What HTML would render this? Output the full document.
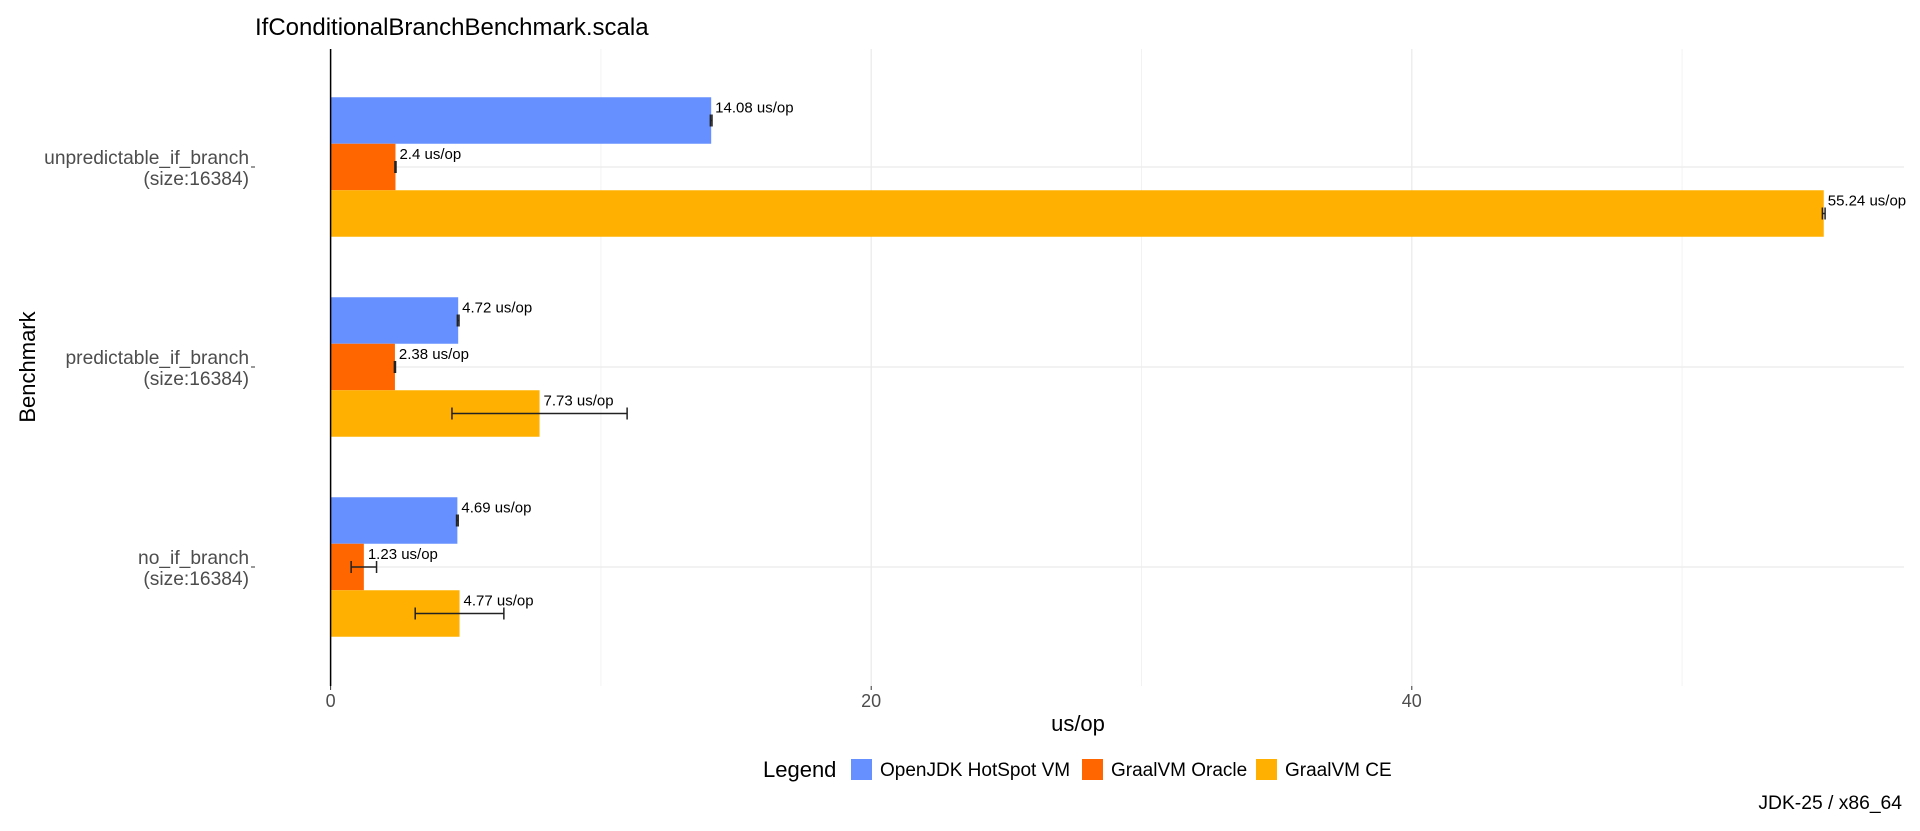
<!DOCTYPE html>
<html><head><meta charset="utf-8"><style>
html,body{margin:0;padding:0;background:#fff}
svg{display:block;font-family:"Liberation Sans",Arial,sans-serif}
</style></head><body>
<svg id="chart" width="1920" height="831" viewBox="0 0 1920 831">
<text x="255" y="35" font-size="24" fill="#000">IfConditionalBranchBenchmark.scala</text>
<g id="grid"></g>
<g id="bars"></g>
<g id="axes"></g>
<text transform="translate(35,367) rotate(-90)" text-anchor="middle" font-size="22" fill="#000">Benchmark</text>
<text x="1078" y="731" text-anchor="middle" font-size="22" fill="#000">us/op</text>
<g>
<text x="763" y="777" font-size="22" fill="#000">Legend</text>
<rect x="851" y="759" width="21" height="21" fill="#6690ff"/>
<text x="880" y="776" font-size="19" fill="#000">OpenJDK HotSpot VM</text>
<rect x="1082" y="759" width="21" height="21" fill="#ff6600"/>
<text x="1111" y="776" font-size="19" fill="#000">GraalVM Oracle</text>
<rect x="1256" y="759" width="21" height="21" fill="#ffb000"/>
<text x="1285" y="776" font-size="19" fill="#000">GraalVM CE</text>
</g>
<text x="1902" y="809" text-anchor="end" font-size="19.3" fill="#000">JDK-25 / x86_64</text>
</svg>
<script>
const categories = ["unpredictable_if_branch", "predictable_if_branch", "no_if_branch"];
const seriesNames = ["OpenJDK HotSpot VM", "GraalVM Oracle", "GraalVM CE"];
const hotspotValues = [14.08, 4.72, 4.69];
const oracleValues = [2.4, 2.38, 1.23];
const ceValues = [55.24, 7.73, 4.77];
const hotspotErrors = [0.03, 0.03, 0.03];
const oracleErrors = [0.02, 0.02, 0.47];
const ceErrors = [0.05, 3.24, 1.64];
const xTicks = [0, 20, 40];
const xMinor = [10, 30, 50];

const NS = "http://www.w3.org/2000/svg";
const colors = ["#6690ff", "#ff6600", "#ffb000"];
const plotL = 330.6, plotR = 1904, plotT = 49, plotB = 686;
function xs(v){ return plotL + v * 27.03; }
function yc(i){ return 167 + i * 200; }
const barH = 46.5;
function mk(tag, attrs, parent){
  const e = document.createElementNS(NS, tag);
  for (const k in attrs) e.setAttribute(k, attrs[k]);
  parent.appendChild(e); return e;
}
const grid = document.getElementById("grid"), bars = document.getElementById("bars"), axes = document.getElementById("axes");
xMinor.forEach(v => {
  const l = mk("line", {x1: xs(v), x2: xs(v), y1: plotT, y2: plotB, stroke: "#f2f2f2", "stroke-width": 1}, grid);
  
  
});
xTicks.forEach(v => {
  const l = mk("line", {x1: xs(v), x2: xs(v), y1: plotT, y2: plotB, stroke: "#ebebeb", "stroke-width": 1.3}, grid);
  
  
  const t = mk("line", {x1: xs(v), x2: xs(v), y1: plotB, y2: plotB + 4, stroke: "#333", "stroke-width": 1}, axes);
  
  
  const tx = mk("text", {x: xs(v), y: plotB + 21, "text-anchor": "middle", "font-size": 18, fill: "#4d4d4d"}, axes);
  tx.textContent = v;
  
  
});
categories.forEach((c, i) => {
  const y = yc(i);
  const g = mk("line", {x1: plotL, x2: plotR, y1: y, y2: y, stroke: "#ebebeb", "stroke-width": 1.3}, grid);
  
  
  const tk = mk("line", {x1: 251, x2: 255, y1: y, y2: y, stroke: "#333", "stroke-width": 1}, axes);
  
  
  const t1 = mk("text", {x: 249, y: y - 3, "text-anchor": "end", "font-size": 19.2, fill: "#4d4d4d"}, axes);
  t1.textContent = c;
  
  
  const t2 = mk("text", {x: 249, y: y + 18, "text-anchor": "end", "font-size": 19.2, fill: "#4d4d4d"}, axes);
  t2.textContent = "(size:16384)";
  
  
});
const allVals = [hotspotValues, oracleValues, ceValues];
const allErr = [hotspotErrors, oracleErrors, ceErrors];
categories.forEach((c, i) => {
  allVals.forEach((vals, s) => {
    const v = vals[i], e = allErr[s][i];
    const top = yc(i) - 1.5 * barH + s * barH;
    const r = mk("rect", {x: xs(0), y: top, width: xs(v) - xs(0), height: barH, fill: colors[s]}, bars);
    
    
    const cy = top + barH / 2, x1 = xs(v - e), x2 = xs(v + e);
    const eb = mk("path", {d: `M${x1},${cy-6}V${cy+6}M${x2},${cy-6}V${cy+6}M${x1},${cy}H${x2}`, stroke: "#222", "stroke-width": 1.5, fill: "none"}, bars);
    
    
    const lb = mk("text", {x: xs(v) + 4, y: top + 15, "font-size": 15, fill: "#000"}, bars);
    lb.textContent = v + " us/op";
    
    
  });
});
const ax = mk("line", {x1: plotL, x2: plotL, y1: plotT, y2: plotB, stroke: "#000", "stroke-width": 1.5}, axes);


</script>
</body></html>
